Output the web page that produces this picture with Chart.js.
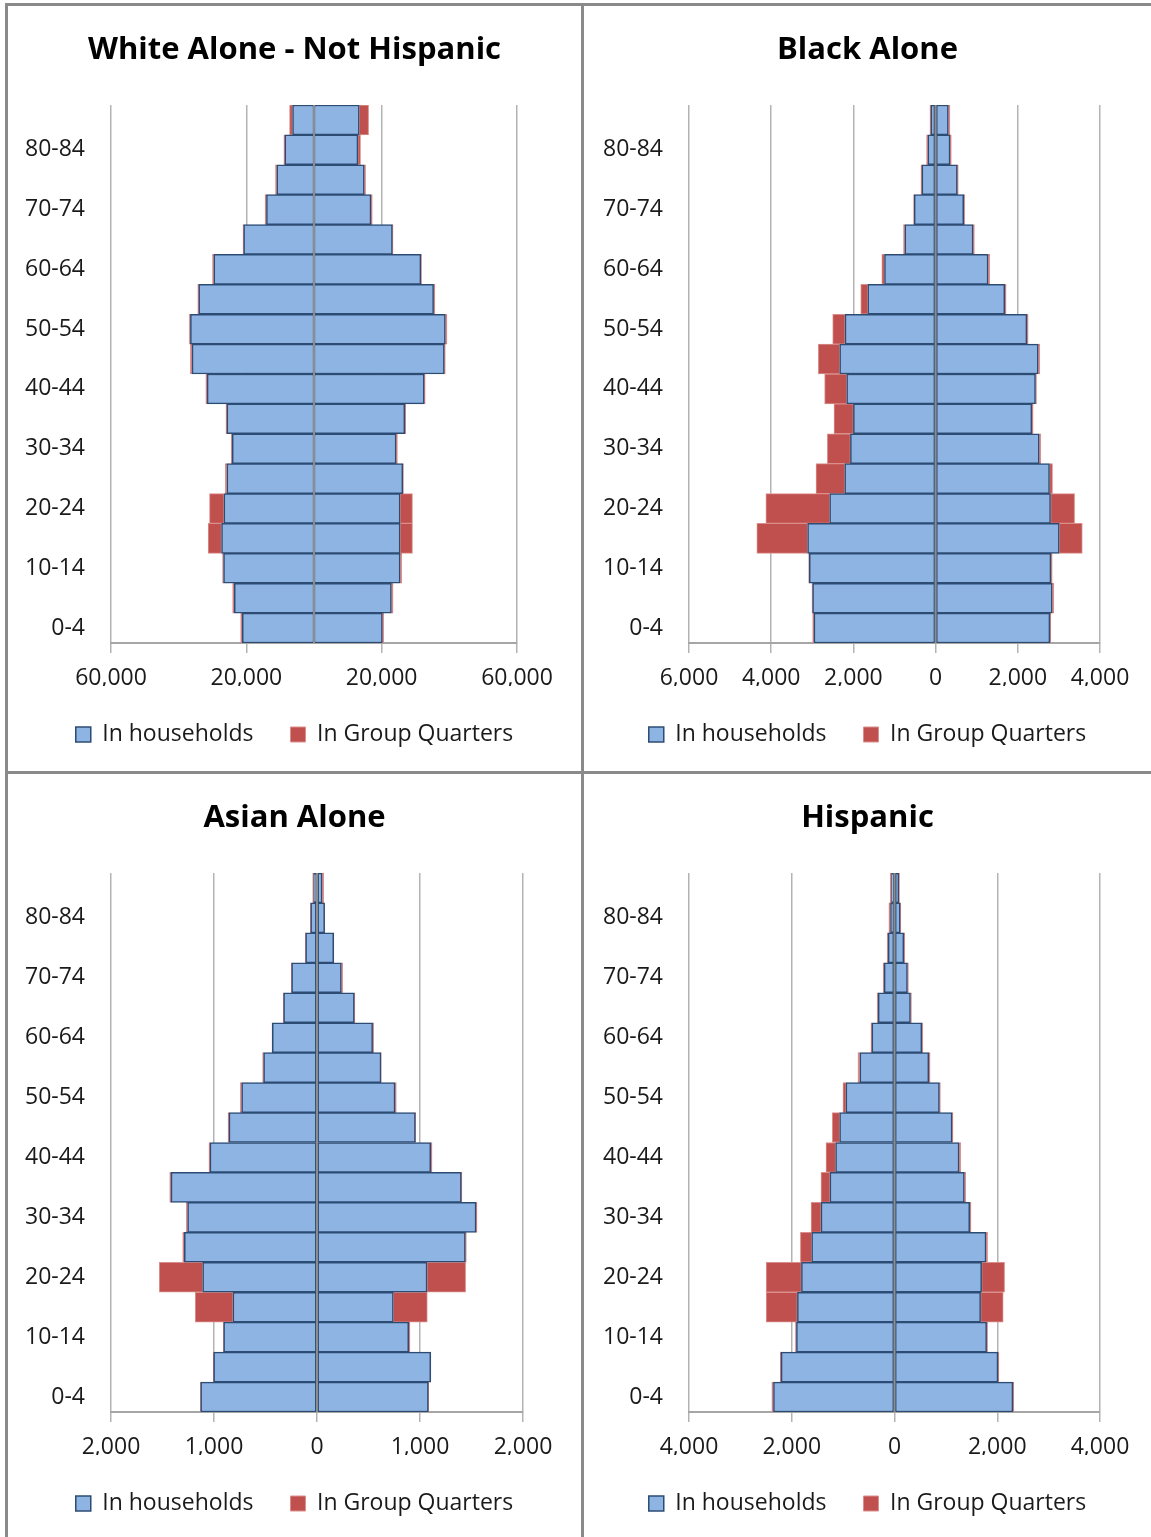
<!DOCTYPE html>
<html><head><meta charset="utf-8">
<script src="https://cdn.jsdelivr.net/npm/chart.js@4.4.1/dist/chart.umd.min.js"></script>
<style>
html,body{margin:0;padding:0;background:#fff}
body{width:1151px;height:1537px;position:relative;overflow:hidden}
.ln{position:absolute;background:#8a8a8a}
canvas{position:absolute}
</style></head><body>
<canvas id="c0" width="573" height="764" style="left:8px;top:7px;width:573px;height:764px"></canvas>
<canvas id="c1" width="567" height="764" style="left:584px;top:7px;width:567px;height:764px"></canvas>
<canvas id="c2" width="573" height="762" style="left:8px;top:775px;width:573px;height:762px"></canvas>
<canvas id="c3" width="567" height="762" style="left:584px;top:775px;width:567px;height:762px"></canvas>
<div class="ln" style="left:5px;top:3px;width:1146px;height:3px"></div>
<div class="ln" style="left:5px;top:3px;width:3px;height:1534px"></div>
<div class="ln" style="left:581px;top:3px;width:3px;height:1534px"></div>
<div class="ln" style="left:5px;top:771px;width:1146px;height:3px"></div>
<script>
const ageGroups = ['0-4','5-9','10-14','15-19','20-24','25-29','30-34','35-39','40-44','45-49','50-54','55-59','60-64','65-69','70-74','75-79','80-84','85+'];
const seriesNames = ['In households','In Group Quarters'];

// White Alone - Not Hispanic (left side / right side)
const whiteLeftHH  = [21190,23560,26730,27330,26630,25740,24160,25740,31580,36040,36530,34060,29600,20790,14060,10990,8610,6340];
const whiteLeftGQ  = [500,500,300,3960,4260,500,300,300,400,500,300,300,400,200,400,400,300,890];
const whiteRightHH = [20200,22870,25450,25450,25450,26240,24260,26830,32570,38510,38810,35350,31580,23170,16830,14850,12970,13370];
const whiteRightGQ = [400,500,500,3660,3660,200,400,300,300,300,500,400,200,200,400,400,790,2770];
const whiteTicks   = [-60000,-20000,20000,60000];

// Black Alone
const blackLeftHH  = [2959,2992,3073,3114,2577,2211,2073,2000,2163,2333,2203,1650,1244,748,520,333,187,114];
const blackLeftGQ  = [33,16,16,1236,1553,699,561,472,537,520,301,171,65,33,16,24,33,24];
const blackRightHH = [2780,2837,2805,3008,2797,2772,2520,2341,2431,2496,2220,1683,1276,911,683,528,350,309];
const blackRightGQ = [24,41,33,561,585,73,41,33,24,41,33,33,41,33,24,24,33,41];
const blackTicks   = [-6000,-4000,-2000,0,2000,4000];

// Asian Alone
const asianLeftHH  = [1129,1003,906,816,1110,1288,1256,1417,1039,854,731,518,434,324,246,110,61,32];
const asianLeftGQ  = [3,3,3,366,421,16,13,13,10,10,13,10,3,3,3,3,3,10];
const asianRightHH = [1081,1104,890,741,1068,1440,1544,1401,1104,955,757,621,540,362,236,162,74,49];
const asianRightGQ = [3,2,13,330,375,10,10,6,13,3,13,3,10,6,13,2,2,16];
const asianTicks   = [-2000,-1000,0,1000,2000];

// Hispanic
const hispLeftHH  = [2356,2207,1909,1890,1812,1612,1430,1256,1146,1068,945,673,440,317,201,123,78,58];
const hispLeftGQ  = [32,19,19,608,686,220,194,175,188,142,58,39,19,19,19,19,32,26];
const hispRightHH = [2304,2013,1793,1676,1696,1780,1463,1359,1256,1120,874,667,531,311,252,181,110,84];
const hispRightGQ = [19,19,19,440,447,32,26,26,32,19,19,26,19,19,19,19,13,13];
const hispTicks   = [-4000,-2000,0,2000,4000];

const BLUE = '#8EB4E3', BLUE_EDGE = '#2C4C74', RED = '#C0504D', RED_EDGE = '#DA8F8D';
const FONT = 'Open Sans';

const centerLine = {
  id: 'centerLine',
  afterDatasetsDraw(chart) {
    const x = chart.scales.x.getPixelForValue(0);
    const a = chart.chartArea, ctx = chart.ctx;
    ctx.save();
    ctx.strokeStyle = '#8c8c8c';
    ctx.lineWidth = 2;
    ctx.beginPath();
    ctx.moveTo(x, a.top);
    ctx.lineTo(x, a.bottom);
    ctx.stroke();
    ctx.restore();
  }
};

function pyramid(id, title, lHH, lGQ, rHH, rGQ, ticks, leftW, rightW, padB) {
  const neg = arr => arr.map(v => -v);
  const ds = (label, data, isHH) => ({
    label, data,
    backgroundColor: isHH ? BLUE : RED,
    borderColor: isHH ? BLUE_EDGE : RED_EDGE,
    borderWidth: isHH ? 1.5 : 1,
    borderSkipped: false,
    barPercentage: 1, categoryPercentage: 1
  });
  new Chart(document.getElementById(id), {
    type: 'bar',
    data: {
      labels: ageGroups,
      datasets: [
        ds(seriesNames[0], neg(lHH), true),
        ds(seriesNames[1], neg(lGQ), false),
        ds(seriesNames[0], rHH, true),
        ds(seriesNames[1], rGQ, false)
      ]
    },
    options: {
      indexAxis: 'y',
      responsive: false,
      animation: false,
      devicePixelRatio: 1,
      layout: { padding: { left: 0, right: 0, top: 0, bottom: padB } },
      scales: {
        x: {
          stacked: true,
          min: ticks[0], max: ticks[ticks.length - 1],
          afterBuildTicks: s => { s.ticks = ticks.map(v => ({ value: v })); },
          afterFit: s => { s.height = 43; },
          ticks: {
            autoSkip: false, maxRotation: 0, padding: 12,
            color: '#1a1a1a', font: { family: FONT, size: 23 },
            callback: v => Math.abs(v).toLocaleString('en-US')
          },
          grid: { color: '#b3b3b3', lineWidth: 1.5, tickLength: 10, drawTicks: true },
          border: { display: true, color: '#a6a6a6', width: 2 }
        },
        y: {
          stacked: true,
          reverse: true,
          afterFit: s => { s.width = leftW; },
          grid: { display: false },
          border: { display: false },
          ticks: {
            autoSkip: false, padding: 18,
            color: '#1a1a1a', font: { family: FONT, size: 23 },
            callback: (v, i) => (i % 2 === 0 ? ageGroups[i] : '')
          }
        },
        yRight: {
          type: 'category',
          position: 'right',
          labels: ageGroups,
          afterFit: s => { s.width = rightW; },
          grid: { display: false },
          border: { display: false },
          ticks: { display: false }
        }
      },
      plugins: {
        title: {
          display: true, text: title, color: '#000',
          font: { family: FONT, size: 31, weight: 'bold' },
          padding: { top: 24.4, bottom: 36.4 }
        },
        legend: {
          position: 'bottom',
          labels: {
            filter: item => item.datasetIndex < 2,
            boxWidth: 15, boxHeight: 15, padding: 37,
            color: '#1a1a1a', font: { family: FONT, size: 23 }
          }
        },
        tooltip: { enabled: false }
      }
    },
    plugins: [centerLine]
  });
}

pyramid('c0', 'White Alone - Not Hispanic', whiteLeftHH, whiteLeftGQ, whiteRightHH, whiteRightGQ, whiteTicks, 103, 64, 15);
pyramid('c1', 'Black Alone', blackLeftHH, blackLeftGQ, blackRightHH, blackRightGQ, blackTicks, 105, 51, 15);
pyramid('c2', 'Asian Alone', asianLeftHH, asianLeftGQ, asianRightHH, asianRightGQ, asianTicks, 103, 58, 12);
pyramid('c3', 'Hispanic', hispLeftHH, hispLeftGQ, hispRightHH, hispRightGQ, hispTicks, 105, 51, 12);
</script>
</body></html>
